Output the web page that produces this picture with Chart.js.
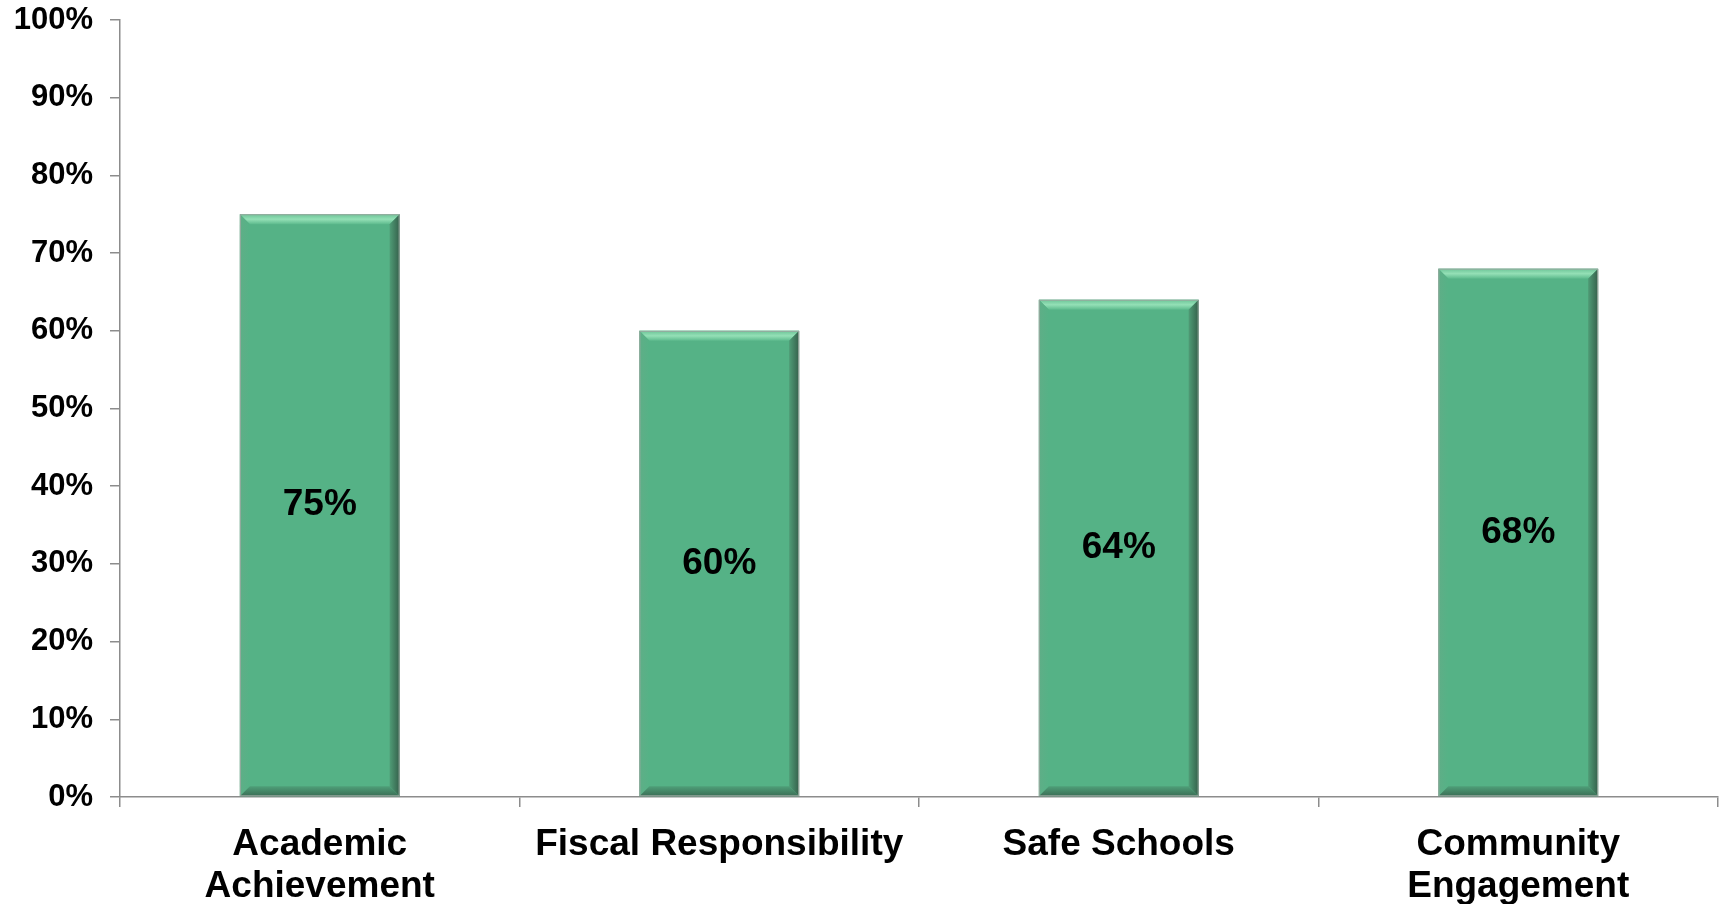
<!DOCTYPE html>
<html>
<head>
<meta charset="utf-8">
<script src="https://cdn.jsdelivr.net/npm/chart.js@4/dist/chart.umd.min.js"></script>
<style>
html,body{margin:0;padding:0;background:#fff;}
#wrap{width:1721px;height:904px;}
</style>
</head>
<body>
<div id="wrap"><canvas id="c" width="1721" height="904"></canvas></div>
<script>
const categories = [["Academic","Achievement"], "Fiscal Responsibility", "Safe Schools", ["Community","Engagement"]];
const values = [75, 60, 64, 68];
const yTicks = [0,10,20,30,40,50,60,70,80,90,100];

const FONT = "'Liberation Sans', Arial, sans-serif";

const bevelPlugin = {
  id: 'bevel',
  afterDatasetsDraw(chart) {
    const ctx = chart.ctx;
    const meta = chart.getDatasetMeta(0);
    meta.data.forEach((bar) => {
      const l = bar.x - bar.width/2, r = bar.x + bar.width/2;
      const t = bar.y, b = bar.base;
      const s = 10;
      ctx.save();
      let g = ctx.createLinearGradient(0, t, 0, t+s);
      g.addColorStop(0, '#6cc497');
      g.addColorStop(0.5, '#94e0b6');
      g.addColorStop(1, '#5dba8d');
      ctx.fillStyle = g;
      ctx.beginPath();
      ctx.moveTo(l, t); ctx.lineTo(r, t); ctx.lineTo(r-s, t+s); ctx.lineTo(l+s, t+s); ctx.closePath();
      ctx.fill();
      g = ctx.createLinearGradient(l, 0, l+s, 0);
      g.addColorStop(0, '#5fae87');
      g.addColorStop(1, '#55b286');
      ctx.fillStyle = g;
      ctx.beginPath();
      ctx.moveTo(l, t); ctx.lineTo(l+s, t+s); ctx.lineTo(l+s, b-s); ctx.lineTo(l, b); ctx.closePath();
      ctx.fill();
      g = ctx.createLinearGradient(r-s, 0, r, 0);
      g.addColorStop(0, '#4f9c76');
      g.addColorStop(1, '#35604b');
      ctx.fillStyle = g;
      ctx.beginPath();
      ctx.moveTo(r, t); ctx.lineTo(r, b); ctx.lineTo(r-s, b-s); ctx.lineTo(r-s, t+s); ctx.closePath();
      ctx.fill();
      g = ctx.createLinearGradient(0, b-s, 0, b);
      g.addColorStop(0, '#4e9f78');
      g.addColorStop(1, '#3c6e56');
      ctx.fillStyle = g;
      ctx.beginPath();
      ctx.moveTo(l, b); ctx.lineTo(r, b); ctx.lineTo(r-s, b-s); ctx.lineTo(l+s, b-s); ctx.closePath();
      ctx.fill();
      ctx.strokeStyle = '#9aa8a0';
      ctx.lineWidth = 1;
      ctx.strokeRect(l+0.5, t+0.5, r-l-1, b-t-1);
      ctx.restore();
    });
  }
};

const labelPlugin = {
  id: 'valueLabels',
  afterDatasetsDraw(chart) {
    const ctx = chart.ctx;
    const meta = chart.getDatasetMeta(0);
    const ds = chart.data.datasets[0].data;
    ctx.save();
    ctx.font = "bold 37px " + FONT;
    ctx.fillStyle = '#000';
    ctx.textAlign = 'center';
    ctx.textBaseline = 'middle';
    meta.data.forEach((bar, i) => {
      ctx.fillText(ds[i] + '%', bar.x, (bar.y + bar.base)/2);
    });
    ctx.restore();
  }
};

new Chart(document.getElementById('c'), {
  type: 'bar',
  data: {
    labels: categories,
    datasets: [{
      data: values,
      backgroundColor: '#55b286',
      borderWidth: 0,
      barPercentage: 0.4,
      categoryPercentage: 1.0
    }]
  },
  options: {
    responsive: false,
    animation: false,
    events: [],
    layout: { padding: { top: 20, right: 3, left: 0, bottom: 0 } },
    plugins: { legend: { display: false }, tooltip: { enabled: false } },
    scales: {
      x: {
        grid: { display: true, drawOnChartArea: false, offset: true, color: '#8c8c8c', lineWidth: 1.5, tickLength: 10 },
        border: { display: true, color: '#8c8c8c', width: 1.5 },
        ticks: { font: { family: FONT, size: 37, weight: 'bold', lineHeight: 1.13 }, color: '#000', padding: 17, maxRotation: 0, autoSkip: false },
        afterFit(scale) { scale.height = 107; scale.paddingLeft = 0; scale.paddingRight = 0; }
      },
      y: {
        min: 0, max: 100,
        afterBuildTicks(scale) { scale.ticks = yTicks.map(v => ({ value: v })); },
        grid: { display: true, drawOnChartArea: false, color: '#8c8c8c', lineWidth: 1.5, tickLength: 10 },
        border: { display: true, color: '#8c8c8c', width: 1.5 },
        ticks: { font: { family: FONT, size: 31, weight: 'bold' }, color: '#000', padding: 17, callback: v => v + '%' },
        afterFit(scale) { scale.width = 120; scale.paddingTop = 0; scale.paddingBottom = 0; }
      }
    }
  },
  plugins: [bevelPlugin, labelPlugin]
});
</script>
</body>
</html>
